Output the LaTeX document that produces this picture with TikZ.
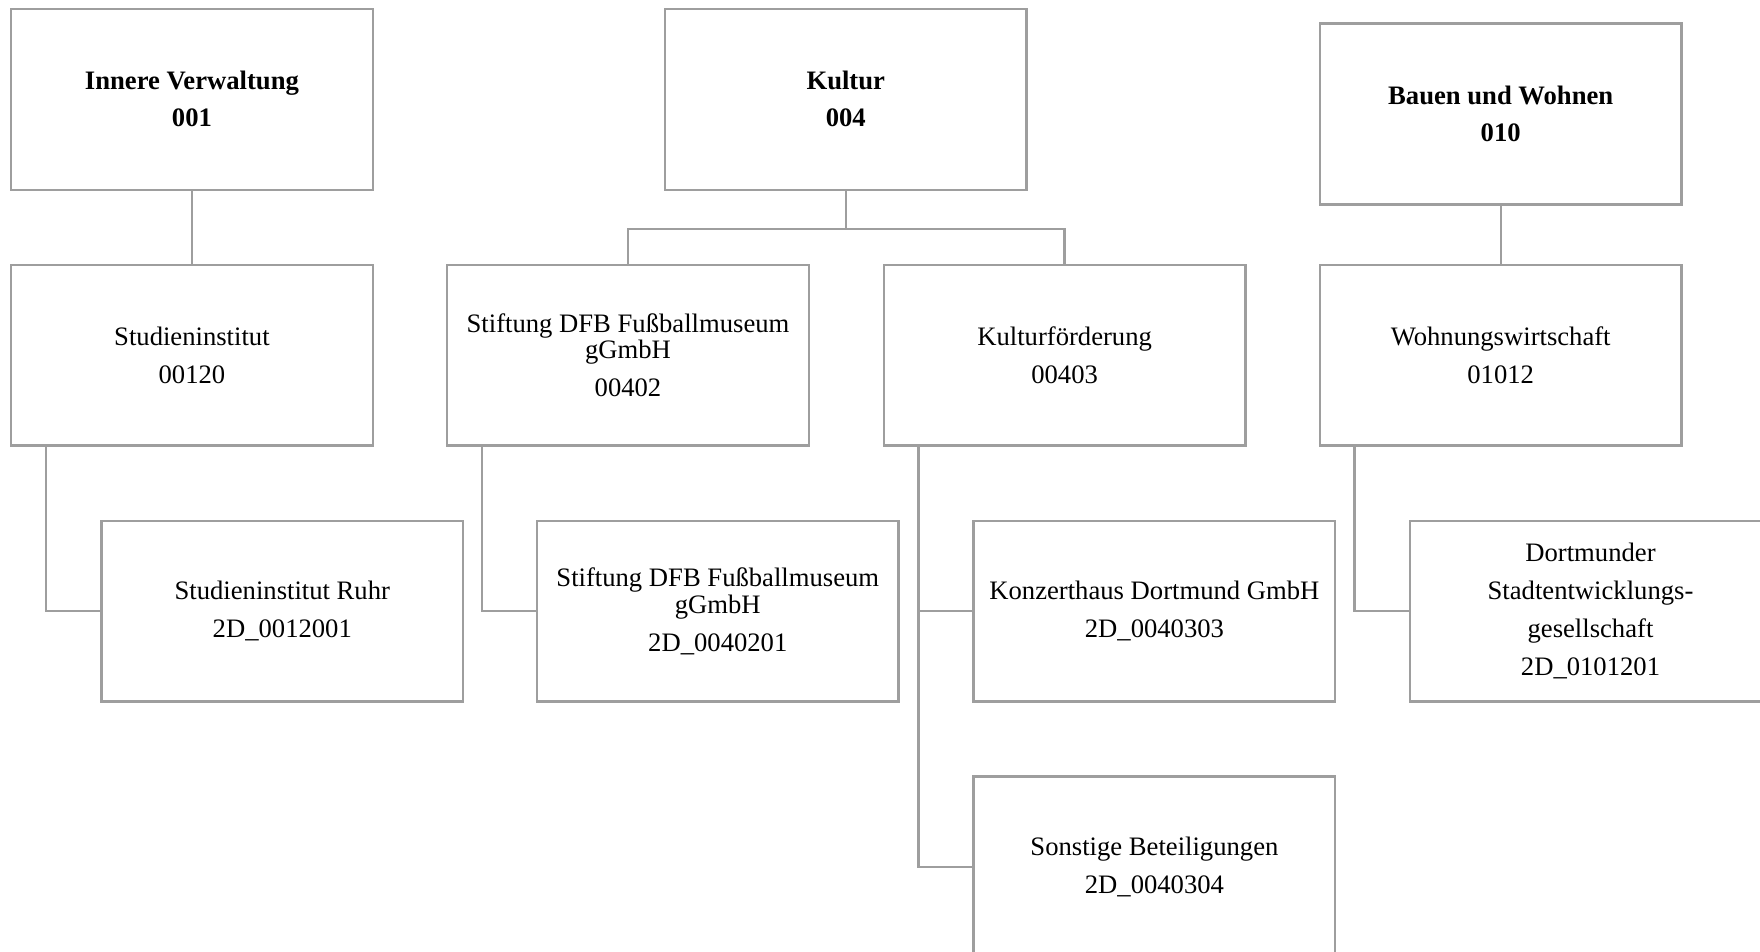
\documentclass[tikz,border=0pt]{standalone}
\usepackage{fontspec}
\setmainfont{Liberation Serif}
\usepackage{tikz}
\usepackage{xcolor}
\definecolor{linegray}{RGB}{158,158,158}
\tikzset{
	box/.style={draw=linegray, line width=0.6pt, minimum width=3.22cm, minimum height=1.61cm, inner sep=0pt, align=center, font=\fontsize{6.75}{9.6}\selectfont},
	head/.style={box, font=\fontsize{6.75}{9.4}\selectfont\bfseries},
	link/.style={draw=linegray, line width=0.6pt}
}

\begin{document}
\begin{tikzpicture}[x=0.01cm, y=0.01cm]
	\useasboundingbox (0,0) rectangle (1568,848);
	%departments
	\node[head] (iv) at (171,759.5) {Innere Verwaltung\\001};
	\node[head] (ku) at (753.5,759.5) {Kultur\\004};
	\node[head] (bw) at (1337,746.5) {Bauen und Wohnen\\010};
	%products
	\node[box] (si) at (171,531.5) {Studieninstitut\\00120};
	\node[box] (sf) at (559.5,531.5) {Stiftung DFB Fußballmuseum\\[-2.85pt]gGmbH\\00402};
	\node[box] (kf) at (948.5,531.5) {Kulturförderung\\00403};
	\node[box] (ww) at (1337,531.5) {Wohnungswirtschaft\\01012};
	%holdings
	\node[box] (sr) at (251.5,303.5) {Studieninstitut Ruhr\\2D\_0012001};
	\node[box] (sf2) at (639.5,303.5) {Stiftung DFB Fußballmuseum\\[-2.85pt]gGmbH\\2D\_0040201};
	\node[box] (kh) at (1028.5,303.5) {Konzerthaus Dortmund GmbH\\2D\_0040303};
	\node[box] (ds) at (1417,303.5) {Dortmunder\\Stadtentwicklungs-\\gesellschaft\\2D\_0101201};
	\node[box] (sb) at (1028.5,75.5) {Sonstige Beteiligungen\\2D\_0040304};
	%links
	\draw[link] (iv.south)--(si.north);
	\draw[link] (ku.south)--++(0,-34) -| (sf.north);
	\draw[link] (ku.south)--++(0,-34) -| (kf.north);
	\draw[link] (bw.south)--(ww.north);
	\draw[link] ([xshift=0.32cm]si.south west) |- (sr.west);
	\draw[link] ([xshift=0.32cm]sf.south west) |- (sf2.west);
	\draw[link] ([xshift=0.32cm]kf.south west) |- (kh.west);
	\draw[link] ([xshift=0.32cm]kf.south west) |- (sb.west);
	\draw[link] ([xshift=0.32cm]ww.south west) |- (ds.west);
\end{tikzpicture}
\end{document}
